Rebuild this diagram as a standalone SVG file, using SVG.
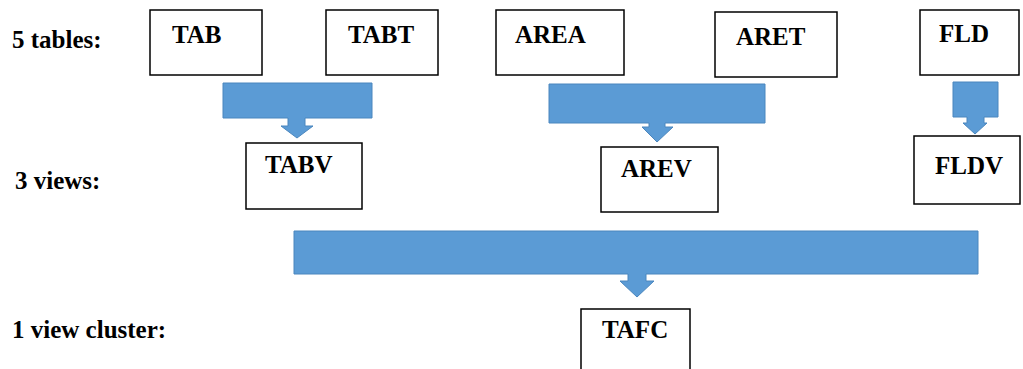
<svg xmlns="http://www.w3.org/2000/svg" width="1023" height="369" viewBox="0 0 1023 369">
<style>
.box{fill:#fff;stroke:#000;stroke-width:1.5}
.t{font-family:"Liberation Serif","Times New Roman",serif;font-weight:bold;font-size:25px;fill:#000}
.arr{fill:#5B9BD5;stroke:#4A86BE;stroke-width:1}
</style>
<rect width="1023" height="369" fill="#fff"/>
<g id="labels">
<text class="t" x="12" y="48">5 tables:</text>
<text class="t" x="15" y="189">3 views:</text>
<text class="t" x="12" y="338">1 view cluster:</text>
</g>
<g id="connectors">
<path class="arr" d="M223,83 H372 V118 H305 V126 H313 L297,138 L281,126 H288 V118 H223 Z"/>
<path class="arr" d="M549,84 H765 V123 H665 V127 H673 L657,142 L642,127 H649 V123 H549 Z"/>
<path class="arr" d="M953,82 H998 V117 H984 V123 H987 L975,134 L963,123 H967 V117 H953 Z"/>
<path class="arr" d="M294,231 H978 V274 H646 V281 H654 L637,297 L620,281 H628 V274 H294 Z"/>
</g>
<g id="TAB"><rect class="box" x="150" y="10" width="112" height="65"/><text class="t" x="172" y="43">TAB</text></g>
<g id="TABT"><rect class="box" x="326" y="10" width="112" height="65"/><text class="t" x="348" y="43">TABT</text></g>
<g id="AREA"><rect class="box" x="496" y="10" width="128" height="65"/><text class="t" x="515" y="43">AREA</text></g>
<g id="ARET"><rect class="box" x="715" y="12" width="122" height="65"/><text class="t" x="736" y="45">ARET</text></g>
<g id="FLD"><rect class="box" x="920" y="10" width="99" height="65"/><text class="t" x="939" y="42">FLD</text></g>
<g id="TABV"><rect class="box" x="246" y="143" width="116" height="66"/><text class="t" x="265" y="173">TABV</text></g>
<g id="AREV"><rect class="box" x="601" y="147" width="117" height="65"/><text class="t" x="621" y="177">AREV</text></g>
<g id="FLDV"><rect class="box" x="914" y="136" width="106" height="68"/><text class="t" x="935" y="174">FLDV</text></g>
<g id="TAFC"><rect class="box" x="581" y="309" width="109" height="70"/><text class="t" x="602" y="338">TAFC</text></g>
</svg>
